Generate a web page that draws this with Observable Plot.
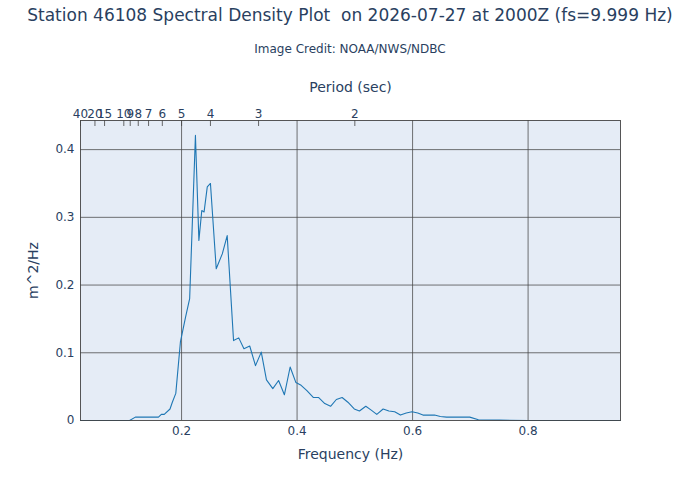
<!DOCTYPE html>
<html>
<head>
<meta charset="utf-8">
<script src="https://cdn.jsdelivr.net/npm/d3@7"></script>
<script src="https://cdn.jsdelivr.net/npm/@observablehq/plot@0.6"></script>
<style>
  body { margin: 0; background: #fff; }
  #wrap { position: relative; width: 700px; height: 500px; font-family: "DejaVu Sans", Verdana, sans-serif; color: #2a3f5f; }
  #title { position: absolute; left: 0; width: 700px; top: 5px; text-align: center; font-size: 17px; white-space: nowrap; }
  #sub { position: absolute; left: 0; width: 700px; top: 42px; text-align: center; font-size: 12px; }
  #chart { position: absolute; left: 0; top: 0; }
</style>
</head>
<body>
<div id="wrap">
  <div id="chart"></div>
  <div id="title">Station 46108 Spectral Density Plot&nbsp; on 2026-07-27 at 2000Z (fs=9.999 Hz)</div>
  <div id="sub">Image Credit: NOAA/NWS/NDBC</div>
</div>
<script>
const frequency = [0.025, 0.05, 0.08, 0.11, 0.12, 0.13, 0.14, 0.15, 0.16, 0.165, 0.17, 0.18, 0.184, 0.19, 0.198, 0.207, 0.214, 0.224, 0.230, 0.235, 0.239, 0.2445, 0.250, 0.260, 0.2705, 0.279, 0.290, 0.299, 0.308, 0.318, 0.328, 0.338, 0.347, 0.358, 0.368, 0.378, 0.388, 0.398, 0.407, 0.417, 0.428, 0.437, 0.448, 0.458, 0.468, 0.478, 0.488, 0.499, 0.508, 0.519, 0.529, 0.538, 0.549, 0.559, 0.569, 0.579, 0.589, 0.599, 0.609, 0.618, 0.628, 0.638, 0.648, 0.659, 0.679, 0.699, 0.714, 0.75, 0.80, 0.90, 0.96];
const density = [0, 0, 0, 0, 0.005, 0.005, 0.005, 0.005, 0.005, 0.009, 0.009, 0.017, 0.027, 0.040, 0.116, 0.153, 0.180, 0.421, 0.266, 0.310, 0.308, 0.345, 0.350, 0.224, 0.246, 0.273, 0.118, 0.122, 0.106, 0.110, 0.081, 0.101, 0.060, 0.047, 0.059, 0.038, 0.079, 0.056, 0.052, 0.044, 0.034, 0.034, 0.025, 0.021, 0.031, 0.034, 0.027, 0.017, 0.014, 0.021, 0.015, 0.009, 0.017, 0.014, 0.013, 0.008, 0.011, 0.013, 0.011, 0.008, 0.008, 0.008, 0.006, 0.005, 0.005, 0.005, 0.001, 0.0005, 0, 0, 0];
const freqTicks = [0.2, 0.4, 0.6, 0.8];
const densityTicks = [0, 0.1, 0.2, 0.3, 0.4];
const periodTicks = [40, 20, 15, 10, 9, 8, 7, 6, 5, 4, 3, 2];

const data = frequency.map((f, i) => ({f, v: density[i]}));
const periodFreqs = periodTicks.map(p => 1 / p);
const textColor = "#2a3f5f";
const H = 500, MT = 120, MB = 80;

const chart = Plot.plot({
  width: 700,
  height: H,
  marginTop: MT,
  marginBottom: MB,
  marginLeft: 80,
  marginRight: 80,
  style: {fontFamily: "'DejaVu Sans', Verdana, sans-serif", fontSize: "12px", color: textColor, background: "transparent"},
  x: {domain: [0.025, 0.96]},
  y: {domain: [0, 0.443]},
  marks: [
    Plot.frame({fill: "#e5ecf6"}),
    Plot.gridX(freqTicks, {stroke: "#444", strokeOpacity: 0.75}),
    Plot.gridY(densityTicks.slice(1), {stroke: "#444", strokeOpacity: 0.75}),
    Plot.tickX(periodFreqs, {x: d => d, stroke: "#444", strokeOpacity: 0.8, insetBottom: H - MT - MB - 6}),
    Plot.line(data, {x: "f", y: "v", stroke: "#1f77b4", strokeWidth: 1.1}),
    Plot.frame({stroke: "#444", strokeOpacity: 0.9}),
    Plot.axisX(freqTicks, {anchor: "bottom", tickSize: 0, tickPadding: 6, tickFormat: d => String(d), label: "Frequency (Hz)", labelAnchor: "center", labelArrow: "none", labelOffset: 38}),
    Plot.axisX(periodFreqs, {anchor: "top", tickSize: 0, tickPadding: 3, tickFormat: (d, i) => String(periodTicks[i]), label: "Period (sec)", labelAnchor: "center", labelArrow: "none", labelOffset: 38}),
    Plot.axisY(densityTicks, {anchor: "left", tickSize: 0, tickPadding: 6, tickFormat: d => d === 0 ? "0" : String(d), label: "m^2/Hz", labelAnchor: "center", labelArrow: "none", labelOffset: 52})
  ]
});
chart.querySelectorAll("g[aria-label$='axis label'] text").forEach(t => t.style.fontSize = "14px");
document.getElementById("chart").appendChild(chart);
</script>
</body>
</html>
